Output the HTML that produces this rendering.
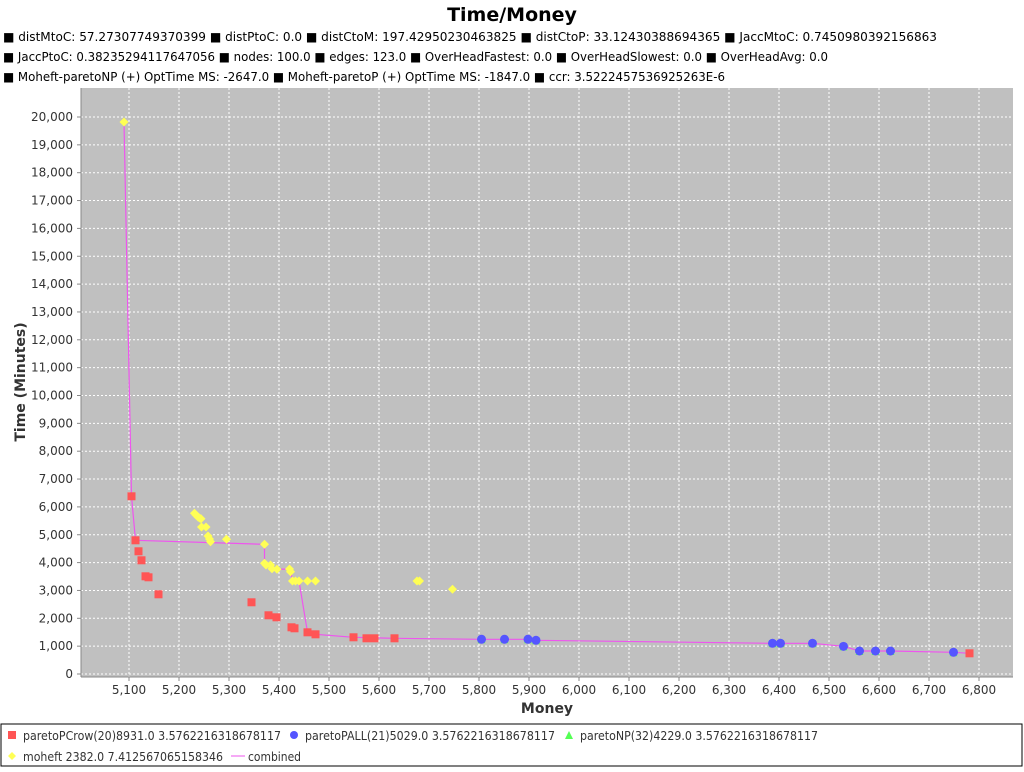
<!DOCTYPE html>
<html><head><meta charset="utf-8"><style>
body{margin:0;width:1024px;height:768px;background:#fff;overflow:hidden;font-family:"DejaVu Sans","Liberation Sans",sans-serif}
svg text{font-family:"DejaVu Sans","Liberation Sans",sans-serif}
</style></head><body>
<svg id="chart" width="1024" height="768" xmlns="http://www.w3.org/2000/svg">
<text x="512" y="21" text-anchor="middle" font-size="19" font-weight="bold">Time/Money</text>
<g font-size="12.3" fill="#000">
<text x="3" y="41" textLength="934" lengthAdjust="spacingAndGlyphs">■ distMtoC: 57.27307749370399 ■ distPtoC: 0.0 ■ distCtoM: 197.42950230463825 ■ distCtoP: 33.12430388694365 ■ JaccMtoC: 0.7450980392156863</text>
<text x="3" y="61" textLength="825" lengthAdjust="spacingAndGlyphs">■ JaccPtoC: 0.38235294117647056 ■ nodes: 100.0 ■ edges: 123.0 ■ OverHeadFastest: 0.0 ■ OverHeadSlowest: 0.0 ■ OverHeadAvg: 0.0</text>
<text x="3" y="81" textLength="722" lengthAdjust="spacingAndGlyphs">■ Moheft-paretoNP (+) OptTime MS: -2647.0 ■ Moheft-paretoP (+) OptTime MS: -1847.0 ■ ccr: 3.5222457536925263E-6</text>
</g>
<rect x="81" y="88" width="932" height="589" fill="#c0c0c0"/>
<g id="grid"></g>
<line x1="81" y1="88" x2="81" y2="677" stroke="#888"/>
<line x1="81" y1="677" x2="1013" y2="677" stroke="#888"/>
<g id="axes" font-size="12" fill="#333"></g>
<g id="marks"></g>
<text x="547" y="713" text-anchor="middle" font-size="14" font-weight="bold" fill="#333">Money</text>
<text transform="translate(25,382) rotate(-90)" text-anchor="middle" font-size="14" font-weight="bold" fill="#333">Time (Minutes)</text>
<g font-size="12" fill="#333">
<rect x="1" y="724" width="1021" height="42" fill="#fff" stroke="#000"/>
<rect x="8" y="731" width="8" height="8" fill="#ff5555"/>
<text x="23" y="740" textLength="258" lengthAdjust="spacingAndGlyphs">paretoPCrow(20)8931.0 3.5762216318678117</text>
<circle cx="294" cy="735" r="4" fill="#5555ff"/>
<text x="305" y="740" textLength="250" lengthAdjust="spacingAndGlyphs">paretoPALL(21)5029.0 3.5762216318678117</text>
<polygon points="569,731 573,739 565,739" fill="#55ff55"/>
<text x="580" y="740" textLength="238" lengthAdjust="spacingAndGlyphs">paretoNP(32)4229.0 3.5762216318678117</text>
<polygon points="12,752 16,756 12,760 8,756" fill="#ffff55"/>
<text x="23" y="761" textLength="200" lengthAdjust="spacingAndGlyphs">moheft 2382.0 7.412567065158346</text>
<line x1="231" y1="756" x2="245" y2="756" stroke="#ee55ee"/>
<text x="248" y="761" textLength="53" lengthAdjust="spacingAndGlyphs">combined</text>
</g>
</svg>
<script>
const xTicks=[5100,5200,5300,5400,5500,5600,5700,5800,5900,6000,6100,6200,6300,6400,6500,6600,6700,6800];
const yTicks=[0,1000,2000,3000,4000,5000,6000,7000,8000,9000,10000,11000,12000,13000,14000,15000,16000,17000,18000,19000,20000];
const redM=[5105,5113,5119,5125,5133,5139,5159,5345,5379,5395,5425,5431,5457,5473,5549,5575,5591,5631,6781];
const redT=[6381,4801,4406,4083,3508,3472,2862,2575,2108,2036,1677,1641,1497,1425,1318,1282,1282,1282,743];
const blueM=[5805,5851,5898,5914,6387,6403,6467,6529,6561,6593,6623,6749];
const blueT=[1246,1246,1246,1210,1102,1102,1102,994,826,826,826,779];
const yelM=[5090,5231,5234,5238,5241,5244,5245,5254,5258,5261,5263,5295,5371,5371,5374,5383,5386,5396,5421,5423,5427,5433,5440,5457,5473,5676,5681,5747];
const yelT=[19820,5770,5709,5637,5601,5576,5278,5278,4955,4847,4750,4837,4657,3975,3914,3914,3781,3759,3770,3673,3339,3339,3339,3339,3339,3339,3339,3041];
const lineM=[5090,5105,5113,5371,5371,5400,5423,5427,5440,5457,5473,5549,5631,5805,5898,5914,6387,6467,6529,6561,6623,6749,6781];
const lineT=[19820,6381,4801,4657,3975,3760,3770,3339,3339,1497,1425,1318,1282,1246,1246,1210,1102,1102,994,826,826,779,743];
const NS='http://www.w3.org/2000/svg';
const X=m=>79+(m-5000)*0.5;
const Y=t=>674-t*0.02785;
function mk(tag,attrs,parent){const e=document.createElementNS(NS,tag);for(const k in attrs)e.setAttribute(k,attrs[k]);document.getElementById(parent).appendChild(e);return e;}
xTicks.forEach(v=>{
 const g=mk('line',{x1:X(v),x2:X(v),y1:88,y2:677,stroke:'#fff','stroke-dasharray':'2,2'},'grid');
 
 
 const tk=mk('line',{x1:X(v),x2:X(v),y1:677,y2:681,stroke:'#888'},'axes');
 
 
 const t=mk('text',{x:X(v),y:694,'text-anchor':'middle'},'axes');
 
 
 t.textContent=v.toLocaleString('en-US');
});
yTicks.forEach(v=>{
 const g=mk('line',{x1:81,x2:1013,y1:Y(v),y2:Y(v),stroke:'#fff','stroke-dasharray':'2,2'},'grid');
 
 
 const tk=mk('line',{x1:77,x2:81,y1:Y(v),y2:Y(v),stroke:'#888'},'axes');
 
 
 const t=mk('text',{x:73,y:Y(v)+4,'text-anchor':'end'},'axes');
 
 
 t.textContent=v.toLocaleString('en-US');
});
const pl=mk('polyline',{points:lineM.map((m,i)=>X(m)+','+Y(lineT[i])).join(' '),fill:'none',stroke:'#ee55ee','stroke-width':1.2},'marks');


yelM.forEach((m,i)=>{const x=X(m),y=Y(yelT[i]);
 const p=mk('polygon',{points:`${x},${y-4.5} ${x+4.5},${y} ${x},${y+4.5} ${x-4.5},${y}`,fill:'#ffff55'},'marks');
 
 });
blueM.forEach((m,i)=>{const x=X(m),y=Y(blueT[i]);
 const p=mk('polygon',{points:`${x},${y-3} ${x+4},${y+4} ${x-4},${y+4}`,fill:'#55ff55'},'marks');
 
 });
blueM.forEach((m,i)=>{
 const c=mk('circle',{cx:X(m),cy:Y(blueT[i]),r:4.5,fill:'#5555ff'},'marks');
 
 });
redM.forEach((m,i)=>{
 const r=mk('rect',{x:X(m)-4,y:Y(redT[i])-4,width:8,height:8,fill:'#ff5555'},'marks');
 
 });
</script>
</body></html>
